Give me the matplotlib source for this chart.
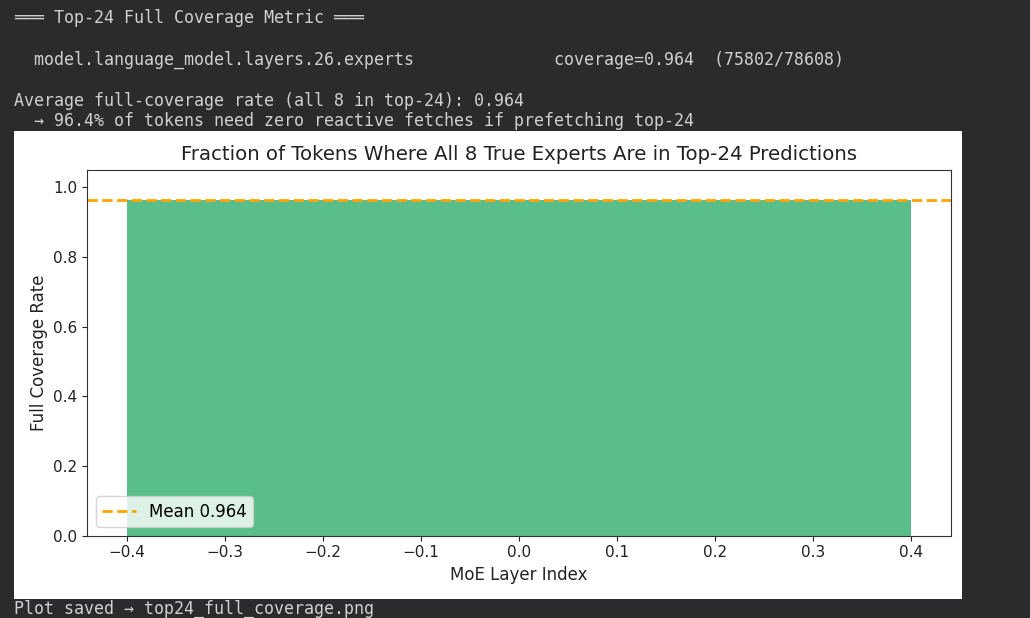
import matplotlib
matplotlib.use("Agg")
import matplotlib.pyplot as plt

# ---- data ----
layer_idx = [0]
coverage = [0.964]
mean_cov = 0.964
layer_names = ["model.language_model.layers.26.experts"]
covered = [75802]
total = [78608]
top_k = 24
n_true = 8

W, H = 1030, 618
fig = plt.figure(figsize=(W / 100, H / 100), dpi=100)
fig.patch.set_facecolor("#2b2b2d")

def fx(px):
    return px / W

def fy(py):
    return 1 - py / H

mono = ["DejaVu Sans Mono"]
tcol = "#d0d0d0"
fs = 11.95

lines = [
    (23, f"═══ Top-{top_k} Full Coverage Metric ═══"),
    (65, f"  {layer_names[0]:<50}  coverage={coverage[0]:.3f}  ({covered[0]}/{total[0]})"),
    (106, f"Average full-coverage rate (all {n_true} in top-{top_k}): {mean_cov:.3f}"),
    (126, f"  → {mean_cov*100:.1f}% of tokens need zero reactive fetches if prefetching top-{top_k}"),
    (613.5, f"Plot saved → top{top_k}_full_coverage.png"),
]
for y, s in lines:
    fig.text(fx(14), fy(y), s, family=mono, fontsize=fs, color=tcol,
             va="baseline", ha="left")

# white plot image background
bg = fig.add_axes([fx(14), fy(598.7), fx(948), 467.7 / H])
bg.set_facecolor("white")
bg.set_xticks([]); bg.set_yticks([])
for s in bg.spines.values():
    s.set_visible(False)

ax = fig.add_axes([fx(87.3), fy(535.7), fx(863.4), 366 / H])
ax.set_facecolor("white")
ax.bar(layer_idx, coverage, width=0.8, color="#59be89")
ax.axhline(mean_cov, color="orange", linestyle="--", linewidth=2,
           label=f"Mean {mean_cov:.3f}")
ax.set_ylim(0, 1.05)
ax.set_xlim(-0.44, 0.44)
ax.set_xticks([-0.4, -0.3, -0.2, -0.1, 0.0, 0.1, 0.2, 0.3, 0.4])
ax.tick_params(labelsize=11, colors="#222222")
for s in ax.spines.values():
    s.set_color("#333333")
ax.set_xlabel("MoE Layer Index", fontsize=12, color="#222222")
ax.set_ylabel("Full Coverage Rate", fontsize=12, color="#222222")
ax.set_title(f"Fraction of Tokens Where All {n_true} True Experts Are in Top-{top_k} Predictions",
             fontsize=14.2, color="#222222", pad=7)
ax.legend(loc="lower left", fontsize=12)

fig.savefig("out.png", dpi=100, facecolor=fig.get_facecolor())
